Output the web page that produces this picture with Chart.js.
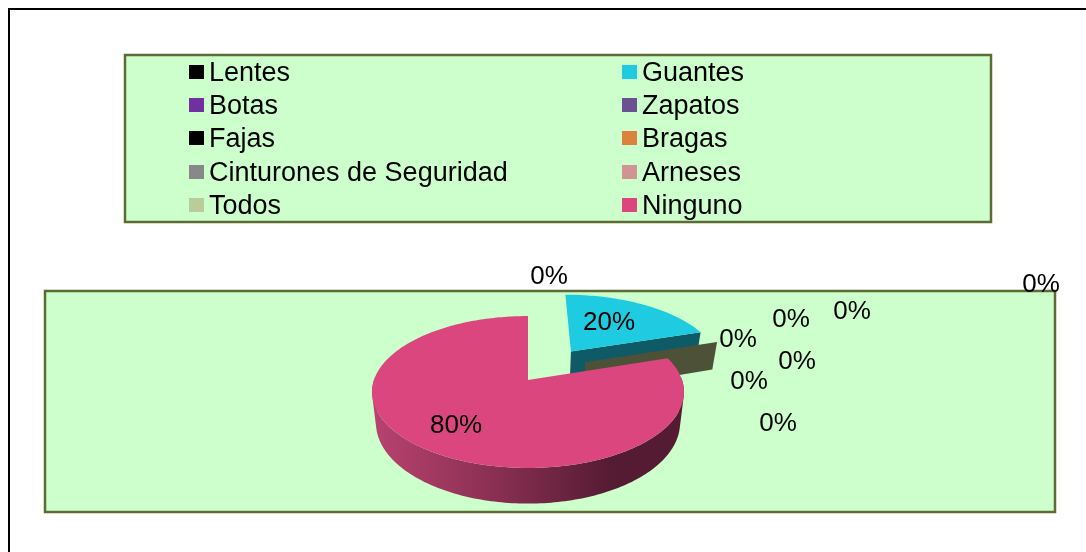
<!DOCTYPE html>
<html>
<head>
<meta charset="utf-8">
<title>Equipos de protección</title>
<script src="https://cdn.jsdelivr.net/npm/chart.js@4"></script>
<style>
  html, body { margin: 0; padding: 0; background: #fff; }
  #wrap { width: 1086px; height: 552px; }
  /* the reference is a slightly soft screenshot */
  #pieChart { filter: blur(0.4px); }
</style>
</head>
<body>
<div id="wrap"><canvas id="pieChart" width="1086" height="552"></canvas></div>
<script>
// Data
const categories = ['Lentes', 'Guantes', 'Botas', 'Zapatos', 'Fajas', 'Bragas', 'Cinturones de Seguridad', 'Arneses', 'Todos', 'Ninguno'];
const values = [0, 20, 0, 0, 0, 0, 0, 0, 0, 80];
const colors = ['#000000', '#1ecbe1', '#7030a0', '#6a5290', '#000000', '#dc823c', '#888888', '#d09494', '#b9cc9a', '#db467e'];

// Layout of the slide-like page
const PANEL_GREEN = '#ccffcc';
const PANEL_EDGE = '#5c6c32';
const legendBox = { x: 125, y: 55, w: 866, h: 167 };
const plotBox = { x: 45, y: 291, w: 1010, h: 221 };
const legendCols = [189, 622];
const legendRows = [72, 105, 138, 172, 205];
// hand placed percent labels, same order as categories
const labelSpots = [[549, 277], [609, 323], [738, 340], [791, 320], [852, 312], [1041, 285], [797, 362], [749, 382], [778, 424], [456, 426]];

// 3D look of the pie
const TILT = 0.481;
const PERSP = 0.158;
const DEPTH = 30;
const BOTTOM_SCALE = 0.975;
const exploded = { 1: 0.505 };          // Guantes pulled out, share of radius
const shardOffset = { u: 0.385, v: 0.25 }; // dark wall left by the empty slices
const SHARD_COLOR = '#4d5138';
const GUANTES_WALL = '#0e5a66';

// unit disc -> screen
function project(arc, u, v, low) {
  const s = 1 / (1 + PERSP * v);
  const k = low ? BOTTOM_SCALE : 1;
  return {
    x: arc.x + arc.outerRadius * u * s * k,
    y: arc.y - arc.outerRadius * TILT * v * s + (low ? DEPTH * s : 0),
  };
}

function edgePoints(arc, off, low) {
  const pts = [];
  const steps = Math.max(2, Math.ceil((arc.endAngle - arc.startAngle) / 0.02));
  for (let i = 0; i <= steps; i++) {
    const a = arc.startAngle + (arc.endAngle - arc.startAngle) * i / steps;
    pts.push({ a, ...project(arc, off.u + Math.cos(a), off.v - Math.sin(a), low) });
  }
  return pts;
}

function fillPoly(ctx, pts, fill) {
  ctx.beginPath();
  pts.forEach((p, i) => (i ? ctx.lineTo(p.x, p.y) : ctx.moveTo(p.x, p.y)));
  ctx.closePath();
  ctx.fillStyle = fill;
  ctx.fill();
}

function signedArea(pts) {
  let sum = 0;
  pts.forEach((p, i) => {
    const q = pts[(i + 1) % pts.length];
    sum += p.x * q.y - q.x * p.y;
  });
  return sum;
}

function drawSlice(ctx, arc, explode, fill, wallFill) {
  const mid = (arc.startAngle + arc.endAngle) / 2;
  const off = { u: Math.cos(mid) * explode, v: -Math.sin(mid) * explode };
  const top = edgePoints(arc, off, false);
  const low = edgePoints(arc, off, true);
  const apexTop = project(arc, off.u, off.v, false);
  const apexLow = project(arc, off.u, off.v, true);
  const last = top.length - 1;

  // rim wall: only the part turned to the viewer, all quads wound the same way
  // so they join without seams in one path
  ctx.beginPath();
  for (let i = 0; i < last; i++) {
    if (Math.sin(top[i].a) < -0.05) continue;
    let quad = [top[i], top[i + 1], low[i + 1], low[i]];
    if (signedArea(quad) < 0) quad = quad.reverse();
    quad.forEach((p, j) => (j ? ctx.lineTo(p.x, p.y) : ctx.moveTo(p.x, p.y)));
    ctx.closePath();
  }
  ctx.fillStyle = wallFill;
  ctx.fill();

  // only the closing cut face can be seen
  fillPoly(ctx, [apexTop, top[last], low[last], apexLow], wallFill);
  // top face
  fillPoly(ctx, [apexTop].concat(top), fill);
}

const pie3dPlugin = {
  id: 'pie3d',
  beforeDraw(chart) {
    const ctx = chart.ctx;
    ctx.save();
    ctx.fillStyle = '#ffffff';
    ctx.fillRect(0, 0, chart.width, chart.height);

    // outer frame, only top and left are in the picture
    ctx.fillStyle = '#000000';
    ctx.fillRect(8, 8, chart.width - 8, 2);
    ctx.fillRect(8, 8, 2, chart.height - 8);

    [legendBox, plotBox].forEach(b => {
      ctx.fillStyle = PANEL_GREEN;
      ctx.fillRect(b.x, b.y, b.w, b.h);
      ctx.strokeStyle = PANEL_EDGE;
      ctx.lineWidth = 2.5;
      ctx.strokeRect(b.x, b.y, b.w, b.h);
    });

    // legend grid
    const items = Chart.overrides.pie.plugins.legend.labels.generateLabels(chart);
    ctx.font = '27px "Liberation Sans"';
    ctx.textBaseline = 'middle';
    ctx.textAlign = 'left';
    items.forEach((item, i) => {
      const col = legendCols[i % 2];
      const row = legendRows[Math.floor(i / 2)];
      ctx.fillStyle = item.fillStyle;
      ctx.fillRect(col, row - 7, 15, 14);
      ctx.fillStyle = '#000000';
      ctx.fillText(item.text, col + 20, row + 2);
    });
    ctx.restore();
  },
  // the flat arcs are replaced by their 3D version below
  beforeDatasetDraw(chart) {
    const ctx = chart.ctx;
    const arcs = chart.getDatasetMeta(0).data;
    const colorsNow = chart.data.datasets[0].backgroundColor;
    const guantes = arcs[1];
    const ninguno = arcs[9];
    const botas = arcs[2];
    ctx.save();

    drawSlice(ctx, guantes, exploded[1], colorsNow[1], GUANTES_WALL);

    // dark wall of the empty slices sitting at the Guantes/Ninguno border
    const a = botas.startAngle;
    const shard = [
      project(botas, shardOffset.u, shardOffset.v, false),
      project(botas, shardOffset.u + Math.cos(a), shardOffset.v - Math.sin(a), false),
      project(botas, shardOffset.u + Math.cos(a), shardOffset.v - Math.sin(a), true),
      project(botas, shardOffset.u, shardOffset.v, true),
    ];
    fillPoly(ctx, shard, SHARD_COLOR);

    // big slice wall goes light to dark from the left
    const left = ninguno.x - ninguno.outerRadius;
    const grad = ctx.createLinearGradient(left, 0, left + ninguno.outerRadius * 1.55, 0);
    grad.addColorStop(0, '#b8426f');
    grad.addColorStop(0.5, '#8a3052');
    grad.addColorStop(1, '#541b32');
    drawSlice(ctx, ninguno, 0, colorsNow[9], grad);

    ctx.restore();
    return false;
  },
  afterDatasetsDraw(chart) {
    const ctx = chart.ctx;
    const total = values.reduce((a, b) => a + b, 0);
    ctx.save();
    ctx.font = '26px "Liberation Sans"';
    ctx.fillStyle = '#000000';
    ctx.textAlign = 'center';
    ctx.textBaseline = 'middle';
    values.forEach((v, i) => {
      ctx.fillText(Math.round(v / total * 100) + '%', labelSpots[i][0], labelSpots[i][1]);
    });
    ctx.restore();
  },
};

new Chart(document.getElementById('pieChart'), {
  type: 'pie',
  data: {
    labels: categories,
    datasets: [{ data: values, backgroundColor: colors, borderWidth: 0 }],
  },
  options: {
    responsive: false,
    animation: false,
    // puts the pie centre and radius where the picture has them
    layout: { padding: { left: 374, right: 404, top: 226, bottom: 18 } },
    plugins: {
      legend: { display: false },
      tooltip: { enabled: false },
    },
  },
  plugins: [pie3dPlugin],
});
</script>
</body>
</html>
